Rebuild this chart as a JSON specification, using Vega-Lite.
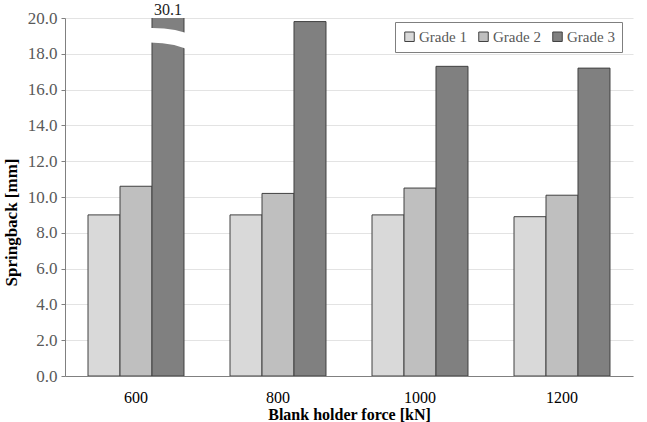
{
  "$schema": "https://vega.github.io/schema/vega-lite/v6.json",
  "width": 568,
  "height": 358,
  "autosize": {"type": "none"},
  "padding": {"left": 65, "top": 18, "right": 14, "bottom": 46},
  "background": "white",
  "config": {
    "font": "Liberation Serif, Times New Roman, serif",
    "view": {"stroke": null},
    "axis": {
      "labelFont": "Liberation Serif, Times New Roman, serif",
      "titleFont": "Liberation Serif, Times New Roman, serif",
      "labelFontSize": 16,
      "titleFontSize": 16,
      "labelColor": "#595959",
      "titleColor": "#000000",
      "titleFontWeight": "bold",
      "domainColor": "#808080",
      "gridColor": "#e3e3e3",
      "tickColor": "#808080",
      "labelOverlap": false
    },
    "legend": {
      "labelFont": "Liberation Serif, Times New Roman, serif",
      "labelFontSize": 15,
      "labelColor": "#595959"
    }
  },
  "data": {
    "values": [
      {"force": "600", "grade": "Grade 1", "value": 9.0},
      {"force": "600", "grade": "Grade 2", "value": 10.6},
      {"force": "600", "grade": "Grade 3", "value": 30.1},
      {"force": "800", "grade": "Grade 1", "value": 9.0},
      {"force": "800", "grade": "Grade 2", "value": 10.2},
      {"force": "800", "grade": "Grade 3", "value": 19.8},
      {"force": "1000", "grade": "Grade 1", "value": 9.0},
      {"force": "1000", "grade": "Grade 2", "value": 10.5},
      {"force": "1000", "grade": "Grade 3", "value": 17.3},
      {"force": "1200", "grade": "Grade 1", "value": 8.9},
      {"force": "1200", "grade": "Grade 2", "value": 10.1},
      {"force": "1200", "grade": "Grade 3", "value": 17.2}
    ]
  },
  "encoding": {
    "x": {
      "field": "force",
      "type": "nominal",
      "sort": ["600", "800", "1000", "1200"],
      "scale": {"paddingInner": 0.324, "paddingOuter": 0.162},
      "axis": {
        "title": "Blank holder force [kN]",
        "labelAngle": 0,
        "ticks": false,
        "labelPadding": 13,
        "titlePadding": 1,
        "labelColor": "#000000",
        "grid": false
      }
    },
    "xOffset": {"field": "grade", "type": "nominal", "sort": ["Grade 1", "Grade 2", "Grade 3"]}
  },
  "layer": [
    {
      "mark": {"type": "bar", "clip": true, "stroke": "#404040", "strokeWidth": 1},
      "encoding": {
        "y": {
          "field": "value",
          "type": "quantitative",
          "title": "Springback [mm]",
          "scale": {"domain": [0, 20], "nice": false},
          "axis": {
            "values": [0, 2, 4, 6, 8, 10, 12, 14, 16, 18, 20],
            "format": ".1f",
            "tickSize": 4,
            "labelPadding": 4,
            "labelFontSize": 17,
            "titleFontSize": 17,
            "titlePadding": 7,
            "titleY": 204,
            "labelOverlap": false,
            "grid": true
          }
        },
        "color": {
          "field": "grade",
          "type": "nominal",
          "scale": {"domain": ["Grade 1", "Grade 2", "Grade 3"], "range": ["#d9d9d9", "#bfbfbf", "#808080"]},
          "legend": {
            "title": null,
            "orient": "none",
            "legendX": 330,
            "legendY": 4,
            "direction": "horizontal",
            "symbolType": "square",
            "symbolSize": 90,
            "symbolStrokeColor": "#404040",
            "symbolStrokeWidth": 1,
            "symbolOpacity": 1,
            "labelOffset": 2,
            "columnPadding": 9,
            "padding": 7,
            "strokeColor": "#7f7f7f",
            "fillColor": "white"
          }
        }
      }
    },
    {
      "transform": [{"filter": "datum.value > 20"}],
      "mark": {
        "type": "point",
        "shape": "M -1 -0.42 Q 0.2 -0.5 1 -0.12 L 1 0.5 Q 0.2 0.05 -1 0.12 Z",
        "filled": true,
        "fill": "white",
        "stroke": null,
        "opacity": 1,
        "size": 2800
      },
      "encoding": {
        "y": {
          "datum": 18.8,
          "type": "quantitative",
          "title": "Springback [mm]",
          "axis": {
            "values": [0, 2, 4, 6, 8, 10, 12, 14, 16, 18, 20],
            "format": ".1f",
            "tickSize": 4,
            "labelPadding": 4,
            "labelFontSize": 17,
            "titleFontSize": 17,
            "titlePadding": 7,
            "titleY": 204,
            "labelOverlap": false,
            "grid": true
          }
        }
      }
    },
    {
      "transform": [{"filter": "datum.value > 20"}],
      "mark": {
        "type": "text",
        "baseline": "alphabetic",
        "dy": -3,
        "fontSize": 16,
        "color": "#222222",
        "font": "Liberation Serif, Times New Roman, serif"
      },
      "encoding": {
        "y": {
          "datum": 20,
          "type": "quantitative",
          "title": "Springback [mm]",
          "axis": {
            "values": [0, 2, 4, 6, 8, 10, 12, 14, 16, 18, 20],
            "format": ".1f",
            "tickSize": 4,
            "labelPadding": 4,
            "labelFontSize": 17,
            "titleFontSize": 17,
            "titlePadding": 7,
            "titleY": 204,
            "labelOverlap": false,
            "grid": true
          }
        },
        "text": {"field": "value", "type": "quantitative", "format": ".1f"}
      }
    }
  ]
}
